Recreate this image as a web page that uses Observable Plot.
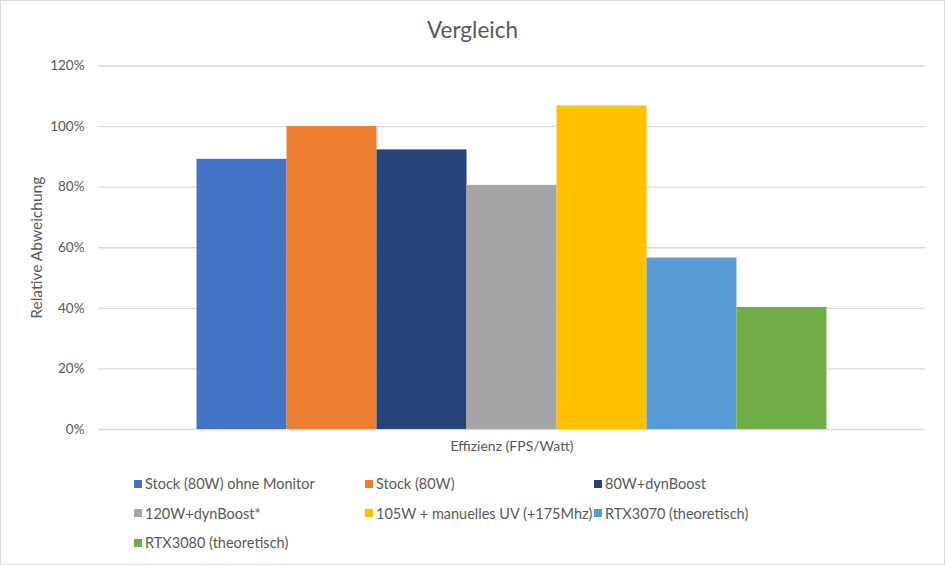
<!DOCTYPE html>
<html>
<head>
<meta charset="utf-8">
<script src="https://cdn.jsdelivr.net/npm/d3@7"></script>
<script src="https://cdn.jsdelivr.net/npm/@observablehq/plot@0.6"></script>
<style>
  html, body { margin: 0; padding: 0; background: #fff; }
  #frame { width: 943px; height: 563px; border: 1px solid #d9d9d9; position: relative; font-family: Lato, "Open Sans", sans-serif; color: #595959; overflow: hidden; }
  #title { height: 45px; box-sizing: border-box; padding-top: 16px; text-align: center; font-size: 22.5px; line-height: 26px; color: #595959; }
  #chart svg { display: block; }
  #legend { display: grid; grid-template-columns: 231px 229px 230px; margin-left: 133px; margin-top: 3px; row-gap: 0; font-size: 14.5px; }
  .item { height: 29.5px; line-height: 29.5px; white-space: nowrap; display: flex; align-items: center; }
  .sw { width: 8px; height: 8px; margin-right: 3px; flex: none; }
</style>
</head>
<body>
<div id="frame">
  <div id="title"></div>
  <div id="chart"></div>
  <div id="legend"></div>
</div>
<script>
const title = "Vergleich";
const category = ["Effizienz (FPS/Watt)"];
const series = [
  "Stock (80W) ohne Monitor",
  "Stock (80W)",
  "80W+dynBoost",
  "120W+dynBoost*",
  "105W + manuelles UV (+175Mhz)",
  "RTX3070 (theoretisch)",
  "RTX3080 (theoretisch)"
];
const values = [0.892, 1.0, 0.923, 0.806, 1.068, 0.566, 0.403];
const colors = ["#4472C4", "#ED7D31", "#264478", "#A5A5A5", "#FFC000", "#5B9BD5", "#70AD47"];
const yTicks = [0, 0.2, 0.4, 0.6, 0.8, 1.0, 1.2];
const yLabel = "Relative Abweichung";

const data = series.map((name, i) => ({name, value: values[i]}));

document.getElementById("title").textContent = title;

const chart = Plot.plot({
  width: 943,
  height: 420,
  marginLeft: 97,
  marginRight: 19,
  marginTop: 19.5,
  marginBottom: 37,
  style: {fontFamily: "Lato, 'Open Sans', sans-serif", fontSize: "13.5px", color: "#595959", background: "white"},
  x: {domain: series, paddingInner: 0, paddingOuter: 1.095, round: false, axis: null},
  y: {domain: [0, 1.2], ticks: yTicks, tickFormat: d3.format(".0%"), tickSize: 0, tickPadding: 14,
      label: null},
  color: {domain: series, range: colors},
  marks: [
    Plot.ruleY(yTicks, {stroke: "#d9d9d9", strokeWidth: 1.3}),
    Plot.barY(data, {x: "name", y: "value", fill: "name", inset: 0}),
    Plot.text(category, {frameAnchor: "bottom", dy: 21, text: d => d, fill: "#595959", fontSize: 14}),
    Plot.text([yLabel], {frameAnchor: "left", dx: -61, rotate: -90, textAnchor: "middle", text: d => d, fill: "#595959", fontSize: 15.5})
  ]
});
document.getElementById("chart").appendChild(chart);

const legend = document.getElementById("legend");
series.forEach((name, i) => {
  const item = document.createElement("div");
  item.className = "item";
  const sw = document.createElement("span");
  sw.className = "sw";
  sw.style.background = colors[i];
  const t = document.createElement("span");
  t.textContent = name;
  item.appendChild(sw);
  item.appendChild(t);
  legend.appendChild(item);
});
</script>
</body>
</html>
